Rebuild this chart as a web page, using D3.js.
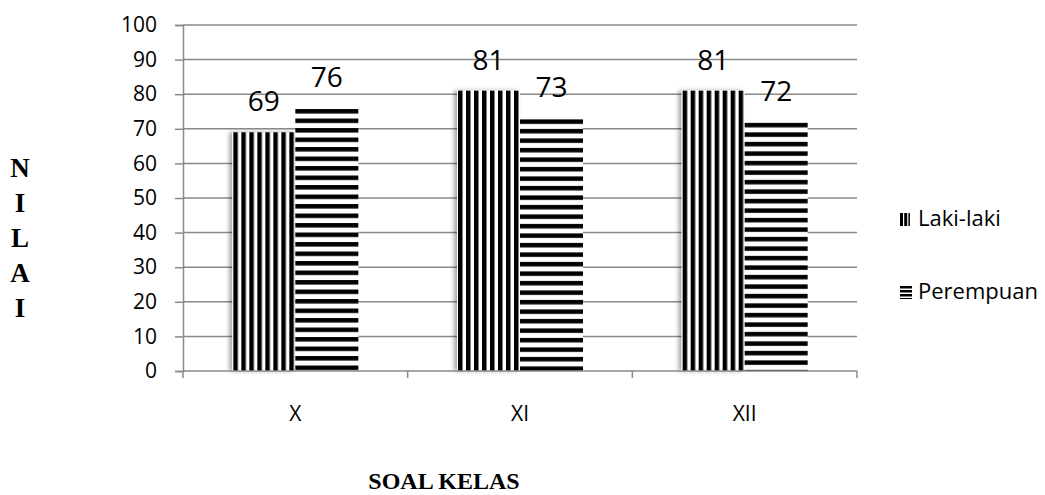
<!DOCTYPE html>
<html><head><meta charset="utf-8">
<script src="https://cdn.jsdelivr.net/npm/d3@7"></script>
<style>
html,body{margin:0;padding:0;background:#fff;}
svg{display:block;}
</style></head>
<body>
<svg id="chart" width="1045" height="495"></svg>
<script>
const categories = ["X", "XI", "XII"];
const seriesNames = ["Laki-laki", "Perempuan"];
const lakiLaki = [69, 81, 81];
const perempuan = [76, 73, 72];
const yTicks = [0, 10, 20, 30, 40, 50, 60, 70, 80, 90, 100];
const yTitle = ["N", "I", "L", "A", "I"];
const xTitle = "SOAL KELAS";

const svg = d3.select("#chart");
const plotL = 183, plotR = 857, plotT = 25, plotB = 371;
const grid = "#8a8a8a";
const sans = "'Open Sans', 'Noto Sans', sans-serif";
const serif = "'Liberation Serif', 'DejaVu Serif', serif";

const x = d3.scaleBand().domain(categories).range([plotL, plotR]).paddingInner(0).paddingOuter(0);
const y = d3.scaleLinear().domain([0, 100]).range([plotB, plotT]);
const barW = 63;

const defs = svg.append("defs");
const f = defs.append("filter").attr("id", "shadow").attr("x", "-20%").attr("y", "-5%").attr("width", "140%").attr("height", "110%");
f.append("feDropShadow").attr("dx", -3).attr("dy", 0).attr("stdDeviation", 2).attr("flood-color", "#000").attr("flood-opacity", 0.35);

function vPattern(id, x0) {
  const p = defs.append("pattern").attr("id", id).attr("patternUnits", "userSpaceOnUse")
    .attr("width", 8).attr("height", 8).attr("patternTransform", `translate(${x0},0)`);
  p.append("rect").attr("width", 8).attr("height", 8).attr("fill", "#fff");
  p.append("rect").attr("x", 1).attr("width", 4.5).attr("height", 8).attr("fill", "#000");
}
function hPattern(id, y0) {
  const p = defs.append("pattern").attr("id", id).attr("patternUnits", "userSpaceOnUse")
    .attr("width", 9.5).attr("height", 9.5).attr("patternTransform", `translate(0,${y0})`);
  p.append("rect").attr("width", 9.5).attr("height", 9.5).attr("fill", "#fff");
  p.append("rect").attr("y", 1).attr("width", 9.5).attr("height", 4.5).attr("fill", "#000");
}

// gridlines
svg.append("g").selectAll("line").data(yTicks.filter(d => d > 0)).join("line")
  .attr("x1", plotL).attr("x2", plotR).attr("y1", d => y(d)).attr("y2", d => y(d))
  .attr("stroke", grid).attr("stroke-width", 1.5);

// y axis
const yAxis = svg.append("g").attr("transform", `translate(${plotL},0)`)
  .call(d3.axisLeft(y).tickValues(yTicks).tickSize(8).tickPadding(18));
yAxis.select(".domain").attr("stroke", grid).attr("stroke-width", 1.5);
yAxis.selectAll(".tick line").attr("stroke", grid).attr("stroke-width", 1.5);
yAxis.selectAll(".tick text").attr("font-family", sans).attr("font-size", 21).attr("fill", "#000");

// bars
const series = [
  {name: seriesNames[0], values: lakiLaki, kind: "v", off: -barW, shadow: true},
  {name: seriesNames[1], values: perempuan, kind: "h", off: 0, shadow: false}
];
series.forEach((s, si) => {
  const g = svg.append("g");
  categories.forEach((c, i) => {
    const bx = x(c) + x.bandwidth() / 2 + s.off;
    const by = y(s.values[i]);
    const id = `pat${si}_${i}`;
    if (s.kind === "v") vPattern(id, bx); else hPattern(id, by);
    g.append("rect")
      .attr("x", bx).attr("y", by).attr("width", barW).attr("height", y(0) - by)
      .attr("fill", `url(#${id})`)
      .attr("filter", s.shadow ? "url(#shadow)" : null);
    g.append("text")
      .attr("x", bx + barW / 2).attr("y", by - 21)
      .attr("text-anchor", "middle")
      .attr("font-family", sans).attr("font-size", 28).attr("fill", "#000")
      .text(s.values[i]);
  });
});

// x axis
const xg = svg.append("g");
xg.append("line").attr("x1", plotL).attr("x2", plotR).attr("y1", plotB).attr("y2", plotB)
  .attr("stroke", grid).attr("stroke-width", 1.5);
const edges = categories.map(c => x(c)).concat([x(categories[categories.length - 1]) + x.bandwidth()]);
xg.selectAll("line.t").data(edges).join("line").attr("class", "t")
  .attr("x1", d => d).attr("x2", d => d).attr("y1", plotB).attr("y2", plotB + 7)
  .attr("stroke", grid).attr("stroke-width", 1.5);
xg.selectAll("text").data(categories).join("text")
  .attr("x", c => x(c) + x.bandwidth() / 2).attr("y", 421)
  .attr("text-anchor", "middle").attr("font-family", sans).attr("font-size", 21).attr("fill", "#000")
  .text(c => c);

// y title
svg.append("g").selectAll("text").data(yTitle).join("text")
  .attr("x", 20).attr("y", (d, i) => 177 + i * 35)
  .attr("text-anchor", "middle").attr("font-family", serif).attr("font-weight", "bold")
  .attr("font-size", 27).attr("fill", "#000").text(d => d);

// x title
svg.append("text").attr("x", 444).attr("y", 489).attr("text-anchor", "middle")
  .attr("font-family", serif).attr("font-weight", "bold").attr("font-size", 24).attr("fill", "#000")
  .text(xTitle);

// legend
const lg = svg.append("g");
const legY = [226, 299];
[0, 1, 2].forEach(k => {
  lg.append("rect").attr("x", 900 + k * 4.2).attr("y", legY[0] - 13).attr("width", k === 2 ? 1.5 : 3).attr("height", 13).attr("fill", "#000");
});
[0, 1, 2, 3].forEach(k => {
  lg.append("rect").attr("x", 900).attr("y", legY[1] - 13 + k * 4).attr("width", 12).attr("height", k === 3 ? 1 : 2.5).attr("fill", "#000");
});
lg.selectAll("text").data(seriesNames).join("text")
  .attr("x", 918).attr("y", (d, i) => legY[i])
  .attr("font-family", sans).attr("font-size", 22).attr("fill", "#000")
  .text(d => d);
</script>
</body></html>
